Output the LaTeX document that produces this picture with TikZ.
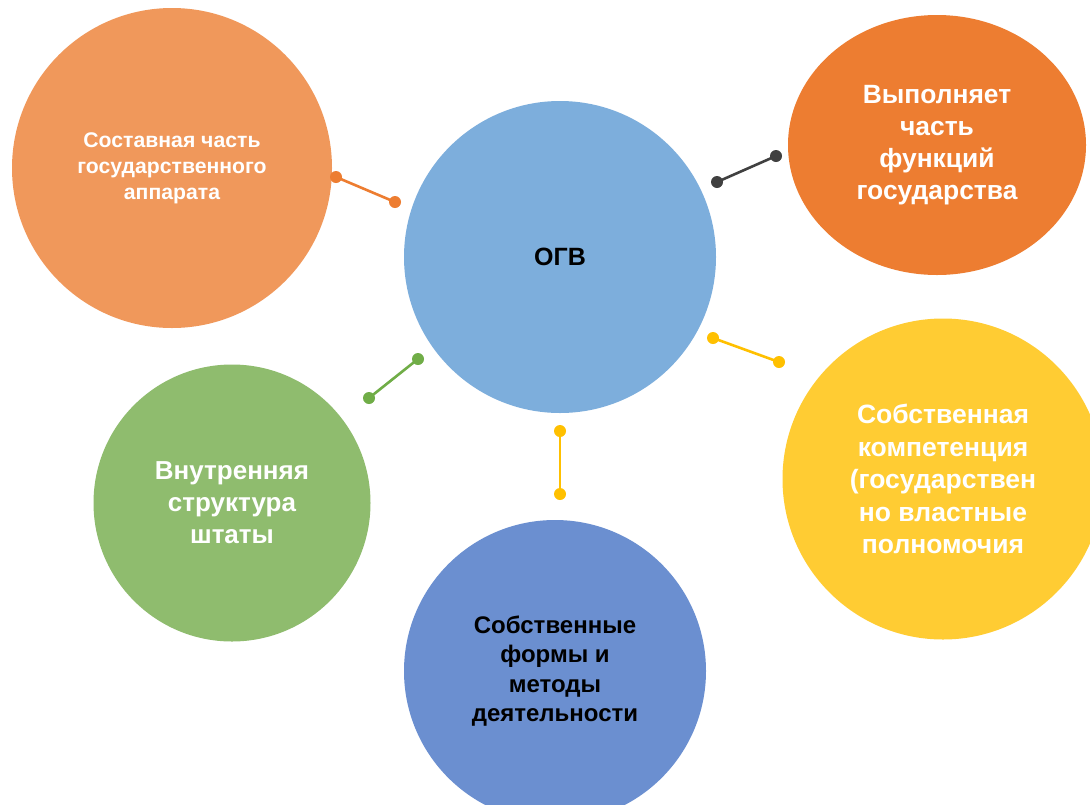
\documentclass[tikz,border=0pt]{standalone}
\usepackage{fontspec}
\setmainfont{Liberation Sans}
\usetikzlibrary{shapes.geometric}
\definecolor{cLtOrange}{HTML}{F0985B}
\definecolor{cBlue}{HTML}{7DAEDC}
\definecolor{cOrange}{HTML}{ED7D31}
\definecolor{cYellow}{HTML}{FFCC33}
\definecolor{cGreen}{HTML}{8FBC6E}
\definecolor{cDkBlue}{HTML}{6B8FD0}
\definecolor{lOrange}{HTML}{ED7D31}
\definecolor{lGray}{HTML}{404040}
\definecolor{lYellow}{HTML}{FFC000}
\definecolor{lGreen}{HTML}{70AD47}
\tikzset{
  bubble/.style={circle, inner sep=0pt, align=center, font=\bfseries},
  dotnode/.style={circle, fill=#1, inner sep=0pt, minimum size=12pt},
  conn/.style={line width=2.6pt, draw=#1},
}
\begin{document}
\begin{tikzpicture}[x=1pt,y=-1pt]
\useasboundingbox (0,0) rectangle (1090,804);
\clip (0,0) rectangle (1090,804);
\fill[white] (0,0) rectangle (1090,804);
% bubbles
\node[bubble, fill=cLtOrange, minimum size=320pt, text=white,
  font=\bfseries\fontsize{21.2}{26}\selectfont] (comp) at (172,168)
  {Составная часть\\государственного\\аппарата};
\node[bubble, fill=cBlue, minimum size=312pt, text=black,
  font=\bfseries\fontsize{25}{30}\selectfont] (ogv) at (560,257) {ОГВ};
\node[ellipse, inner sep=0pt, align=center, fill=cOrange, minimum width=298pt, minimum height=260pt, text=white,
  font=\bfseries\fontsize{26.4}{32}\selectfont] (func) at (937,145)
  {Выполняет\\часть\\функций\\государства};
\node[bubble, fill=cYellow, minimum size=321pt, text=white,
  font=\bfseries\fontsize{26.5}{32.5}\selectfont] (compet) at (943,479)
  {Собственная\\компетенция\\(государствен\\но властные\\полномочия};
\node[bubble, fill=cGreen, minimum size=277pt, text=white,
  font=\bfseries\fontsize{26}{32}\selectfont] (struct) at (232,503)
  {Внутренняя\\структура\\штаты};
\node[bubble, fill=cDkBlue, minimum size=302pt, text=black,
  font=\bfseries\fontsize{24}{29.5}\selectfont] (forms) at (555,671)
  {Собственные\\формы и\\методы\\деятельности};
% connectors
\node[dotnode=lOrange] (o1) at (336,177) {};
\node[dotnode=lOrange] (o2) at (395,202) {};
\draw[conn=lOrange] (o1.center) -- (o2.center);
\node[dotnode=lGray] (g1) at (717,182) {};
\node[dotnode=lGray] (g2) at (776,156) {};
\draw[conn=lGray] (g1.center) -- (g2.center);
\node[dotnode=lYellow] (y1) at (713,338) {};
\node[dotnode=lYellow] (y2) at (779,362) {};
\draw[conn=lYellow] (y1.center) -- (y2.center);
\node[dotnode=lGreen] (n1) at (418,359) {};
\node[dotnode=lGreen] (n2) at (369,398) {};
\draw[conn=lGreen] (n1.center) -- (n2.center);
\node[dotnode=lYellow] (v1) at (560,431) {};
\node[dotnode=lYellow] (v2) at (560,494) {};
\draw[conn=lYellow] (v1.center) -- (v2.center);
\end{tikzpicture}
\end{document}
